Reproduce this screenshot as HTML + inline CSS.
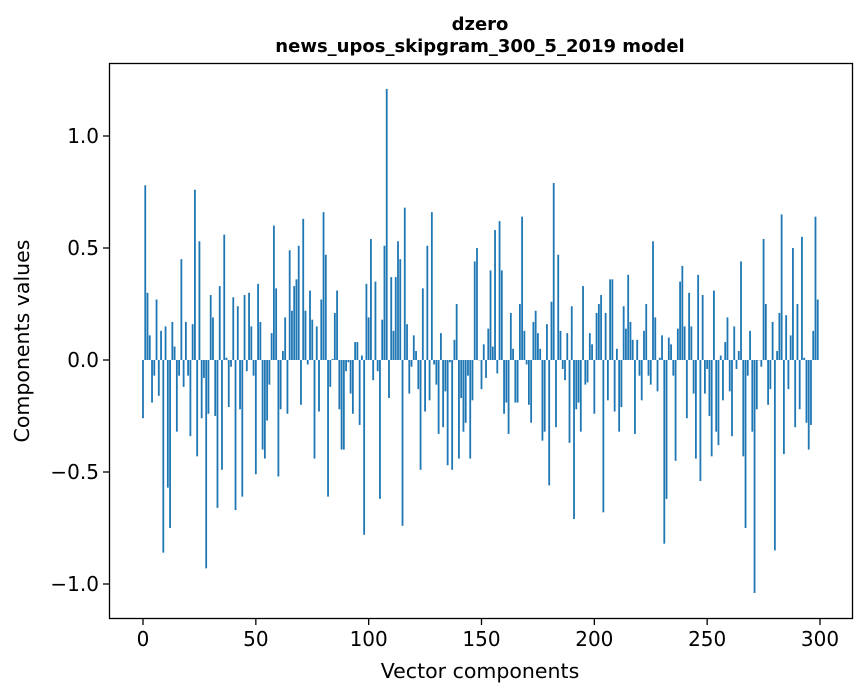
<!DOCTYPE html>
<html><head><meta charset="utf-8"><style>
body{margin:0;background:#fff;}
svg{display:block;font-family:"DejaVu Sans","Liberation Sans",sans-serif;}
</style></head><body>
<svg id="chart" width="867" height="696">
<rect x="0" y="0" width="867" height="696" fill="#fff"/>
<text x="480" y="30" text-anchor="middle" font-size="18" font-weight="bold">dzero</text>
<text x="480" y="52" text-anchor="middle" font-size="18" font-weight="bold">news_upos_skipgram_300_5_2019 model</text>
<g id="bars"></g>
<rect x="109.5" y="63.5" width="743" height="555" fill="none" stroke="#000" stroke-width="1.3"/>
<g id="xticks"></g>
<g id="yticks"></g>
<text x="480" y="678" text-anchor="middle" font-size="20.5">Vector components</text>
<text transform="translate(29,341) rotate(-90)" text-anchor="middle" font-size="20.5">Components values</text>
</svg>
<script>
const values = [
-0.26,0.78,0.30,0.11,-0.19,-0.07,0.27,-0.16,0.13,-0.86,
0.15,-0.57,-0.75,0.17,0.06,-0.32,-0.07,0.45,-0.12,0.17,
-0.07,-0.34,0.16,0.76,-0.43,0.53,-0.26,-0.08,-0.93,-0.24,
0.29,0.19,-0.25,-0.66,0.33,-0.49,0.56,0.01,-0.21,-0.03,
0.28,-0.67,0.24,-0.22,-0.61,0.29,-0.05,0.30,0.15,-0.07,
-0.51,0.34,0.17,-0.40,-0.44,-0.27,-0.11,0.12,0.60,0.32,
-0.52,-0.22,0.04,0.19,-0.24,0.49,0.22,0.33,0.36,0.51,
-0.20,0.63,0.22,-0.02,0.31,0.18,-0.44,0.15,-0.23,0.27,
0.66,0.47,-0.61,-0.12,0.005,0.21,0.31,-0.22,-0.40,-0.40,
-0.05,-0.01,-0.15,-0.24,0.08,0.08,-0.29,0.02,-0.78,0.34,
0.19,0.54,-0.09,0.35,-0.05,-0.62,0.18,0.51,1.21,-0.17,
0.37,0.13,0.37,0.53,0.45,-0.74,0.68,0.16,-0.15,-0.03,
0.11,0.04,-0.13,-0.49,0.32,-0.23,0.51,-0.18,0.66,-0.02,
-0.11,-0.33,0.12,-0.30,-0.14,-0.47,-0.01,-0.49,0.09,0.25,
-0.44,-0.17,-0.32,-0.28,-0.07,-0.44,-0.18,0.44,0.50,0.0,
-0.13,0.07,-0.08,0.14,0.40,0.06,0.58,-0.06,0.62,0.40,
-0.24,-0.19,-0.33,0.21,0.05,-0.19,-0.19,0.25,0.64,0.13,
-0.02,-0.20,-0.28,0.17,0.22,0.12,0.05,-0.36,-0.32,0.16,
-0.56,0.26,0.79,-0.30,0.47,0.13,-0.04,-0.09,0.12,-0.37,
0.24,-0.71,-0.22,-0.19,-0.32,0.33,-0.11,-0.10,0.12,0.07,
-0.24,0.21,0.25,0.29,-0.68,0.21,-0.18,0.36,0.36,-0.23,
0.05,-0.32,-0.21,0.24,0.14,0.38,0.17,0.09,-0.33,0.09,
-0.07,-0.18,0.13,0.25,-0.07,-0.11,0.53,0.19,-0.14,0.01,
0.11,-0.82,-0.62,0.10,0.07,-0.07,-0.45,0.14,0.35,0.42,
0.15,-0.26,0.30,0.15,-0.15,-0.44,0.38,-0.54,0.29,-0.15,
-0.04,-0.25,-0.43,0.31,-0.32,-0.38,0.02,-0.18,0.08,0.19,
-0.14,-0.34,0.15,-0.04,0.04,0.44,-0.43,-0.75,-0.07,0.13,
-0.32,-1.04,-0.22,0.0,-0.03,0.54,0.25,-0.20,-0.13,0.17,
-0.85,0.04,0.21,0.65,-0.42,0.20,-0.13,0.11,0.50,-0.30,
0.25,-0.22,0.55,0.01,-0.28,-0.40,-0.29,0.13,0.64,0.27
];
const xTickValues = [0,50,100,150,200,250,300];
const yTickValues = [-1.0,-0.5,0.0,0.5,1.0];
const yTickLabels = ["\u22121.0","\u22120.5","0.0","0.5","1.0"];

const NS = "http://www.w3.org/2000/svg";
function xScale(v){ return 143 + (820-143)*v/300; }
function yScale(v){ return 360 - 224*v; }
const barW = (xScale(1)-xScale(0))*0.8;

const barsG = document.getElementById('bars');
values.forEach((v,i)=>{
  const r = document.createElementNS(NS,'rect');
  const y0 = yScale(0), y1 = yScale(v);
  r.setAttribute('x', xScale(i)-barW/2);
  r.setAttribute('y', Math.min(y0,y1));
  r.setAttribute('width', barW);
  r.setAttribute('height', Math.max(Math.abs(y1-y0),0.3));
  r.setAttribute('fill', '#1f77b4');
  
  
  barsG.appendChild(r);
});

const xg = document.getElementById('xticks');
xTickValues.forEach(t=>{
  const x = xScale(t);
  const l = document.createElementNS(NS,'line');
  l.setAttribute('x1',x); l.setAttribute('x2',x);
  l.setAttribute('y1',618.5); l.setAttribute('y2',625);
  l.setAttribute('stroke','#000');
  l.setAttribute('stroke-width','1.3');
  
  
  xg.appendChild(l);
  const tx = document.createElementNS(NS,'text');
  tx.setAttribute('x',x); tx.setAttribute('y',646);
  tx.setAttribute('text-anchor','middle'); tx.setAttribute('font-size','20');
  tx.textContent = String(t);
  
  
  xg.appendChild(tx);
});

const yg = document.getElementById('yticks');
yTickValues.forEach((t,i)=>{
  const y = yScale(t);
  const l = document.createElementNS(NS,'line');
  l.setAttribute('x1',103); l.setAttribute('x2',109.5);
  l.setAttribute('y1',y); l.setAttribute('y2',y);
  l.setAttribute('stroke','#000');
  l.setAttribute('stroke-width','1.3');
  
  
  yg.appendChild(l);
  const tx = document.createElementNS(NS,'text');
  tx.setAttribute('x',99); tx.setAttribute('y',y+7);
  tx.setAttribute('text-anchor','end'); tx.setAttribute('font-size','20');
  tx.textContent = yTickLabels[i];
  
  
  yg.appendChild(tx);
});
</script>
</body></html>
